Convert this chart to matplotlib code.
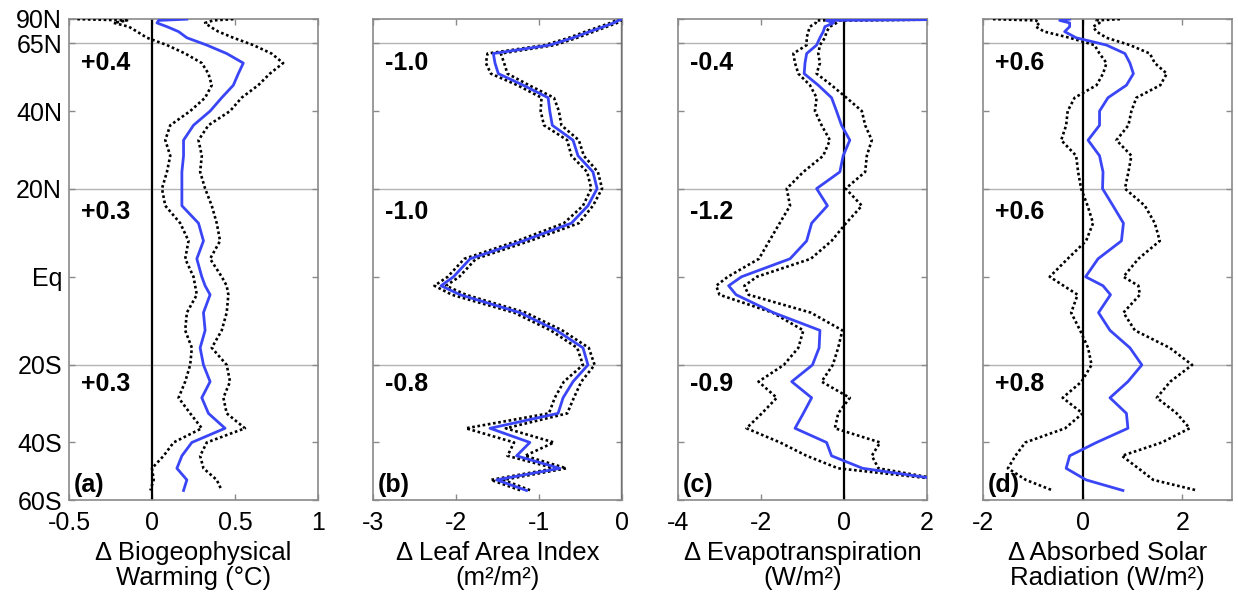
"""Zonal-mean profiles of four land-surface changes, one panel per variable."""

import matplotlib

matplotlib.use("Agg")
import matplotlib.pyplot as plt
import numpy as np

plt.rcParams["font.family"] = ["Liberation Sans", "DejaVu Sans"]
plt.rcParams["axes.unicode_minus"] = False

# latitude of each zonal band (degrees, north positive)
LAT = [88, 84, 80, 76, 72, 68, 64, 60, 56, 52, 48, 44, 40, 36, 32, 28, 24, 20,
       16, 12, 8, 4, 0, -2, -4, -8, -12, -16, -20, -24, -28, -32, -36, -40,
       -44, -48, -52, -56]

# (a) biogeophysical warming, degC
warm_mean = [0.21, 0.04, 0.03, 0.09, 0.16, 0.21, 0.33, 0.45, 0.55, 0.52, 0.49,
             0.42, 0.35, 0.25, 0.19, 0.19, 0.18, 0.18, 0.18, 0.28, 0.31, 0.27,
             0.30, 0.32, 0.35, 0.31, 0.32, 0.29, 0.31, 0.35, 0.30, 0.34, 0.44,
             0.24, 0.18, 0.15, 0.21, 0.19]
warm_low = [-0.45, -0.15, -0.23, -0.14, -0.09, -0.03, 0.09, 0.20, 0.30, 0.34,
            0.36, 0.32, 0.23, 0.11, 0.08, 0.11, 0.09, 0.06, 0.08, 0.17, 0.22,
            0.20, 0.25, 0.26, 0.27, 0.21, 0.20, 0.24, 0.23, 0.20, 0.16, 0.23,
            0.30, 0.13, 0.07, 0.00, 0.01, -0.01]
warm_high = [0.49, 0.37, 0.32, 0.35, 0.40, 0.49, 0.61, 0.72, 0.79, 0.71, 0.64,
             0.54, 0.47, 0.34, 0.28, 0.30, 0.29, 0.32, 0.36, 0.39, 0.41, 0.35,
             0.42, 0.45, 0.46, 0.45, 0.42, 0.36, 0.45, 0.47, 0.43, 0.45, 0.56,
             0.33, 0.29, 0.31, 0.39, 0.42]

# (b) leaf area index, m2/m2
lai_mean = [0.0, -0.04, -0.10, -0.22, -0.39, -0.59, -0.87, -1.55, -1.53, -1.49,
            -1.19, -0.89, -0.87, -0.84, -0.59, -0.53, -0.35, -0.30, -0.41,
            -0.61, -1.19, -1.83, -2.03, -2.18, -1.95, -1.23, -0.79, -0.47,
            -0.41, -0.59, -0.71, -0.77, -1.59, -1.11, -1.27, -0.75, -1.51, -1.15]
lai_low = [-0.02, -0.07, -0.14, -0.27, -0.44, -0.64, -0.93, -1.62, -1.64, -1.58,
           -1.26, -0.97, -0.98, -0.94, -0.66, -0.61, -0.42, -0.37, -0.47, -0.70,
           -1.26, -1.90, -2.10, -2.26, -2.05, -1.30, -0.86, -0.54, -0.47, -0.70,
           -0.81, -0.88, -1.88, -1.30, -1.38, -0.81, -1.58, -1.22]
lai_high = [0.0, -0.01, -0.06, -0.18, -0.34, -0.54, -0.81, -1.46, -1.42, -1.38,
            -1.12, -0.82, -0.76, -0.73, -0.52, -0.46, -0.29, -0.24, -0.35, -0.52,
            -1.11, -1.76, -1.96, -2.12, -1.88, -1.16, -0.72, -0.40, -0.33, -0.49,
            -0.58, -0.66, -1.40, -0.82, -1.17, -0.67, -1.43, -1.10]

# (c) evapotranspiration, W/m2 (nan = no land band)
et_mean = [3.5, -0.42, -0.25, -0.46, -0.50, -0.58, -0.66, -0.90, -0.94, -0.96,
           -0.62, -0.30, -0.18, -0.06, 0.14, -0.02, -0.10, -0.66, -0.40, -0.78,
           -0.90, -1.30, -2.47, -2.78, -2.60, -1.70, -0.58, -0.60, -0.76, -1.26,
           -0.78, -0.98, -1.18, -0.42, -0.30, 0.45, 2.4, np.nan]
et_low = [3.5, -0.66, -0.68, -0.82, -0.86, -0.90, -0.90, -1.22, -1.18, -1.10,
          -0.82, -0.66, -0.70, -0.54, -0.34, -0.50, -0.98, -1.38, -1.30, -1.55,
          -1.80, -2.05, -2.80, -3.08, -3.00, -1.72, -0.98, -1.10, -1.45, -2.06,
          -1.62, -1.98, -2.35, -1.54, -0.90, -0.14, 2.4, np.nan]
et_high = [3.5, -0.10, -0.18, -0.34, -0.42, -0.46, -0.58, -0.62, -0.58, -0.66,
           -0.30, 0.06, 0.43, 0.51, 0.67, 0.55, 0.51, 0.04, 0.43, 0.05, -0.30,
           -0.80, -2.10, -2.40, -2.30, -0.80, -0.04, -0.14, -0.27, -0.54, 0.14,
           -0.14, -0.22, 0.87, 0.67, 0.83, 2.4, np.nan]

# (d) absorbed solar radiation, W/m2
sw_mean = [-0.26, -0.46, -0.26, -0.26, -0.36, -0.13, 0.48, 0.85, 0.95, 1.02,
           0.88, 0.51, 0.34, 0.34, 0.11, 0.34, 0.41, 0.40, 0.61, 0.82, 0.78,
           0.31, 0.06, 0.41, 0.56, 0.32, 0.55, 0.95, 1.19, 0.91, 0.55, 0.88,
           0.91, 0.28, -0.26, -0.33, 0.07, 0.81]
sw_low = [-1.80, -0.94, -0.87, -0.94, -0.77, -0.26, 0.24, 0.34, 0.48, 0.41,
          0.28, -0.16, -0.30, -0.33, -0.43, -0.13, -0.09, -0.03, 0.10, 0.21,
          0.07, -0.30, -0.66, -0.38, -0.10, -0.23, -0.05, 0.11, 0.18, -0.02,
          -0.40, 0.00, -0.35, -1.15, -1.35, -1.50, -1.14, -0.60]
sw_high = [0.75, 0.28, 0.34, 0.21, 0.28, 0.48, 0.95, 1.35, 1.45, 1.69, 1.56,
           1.08, 0.98, 0.92, 0.68, 0.98, 0.92, 0.85, 1.25, 1.45, 1.55, 1.12,
           0.82, 1.12, 1.15, 0.82, 1.05, 1.75, 2.20, 1.76, 1.49, 1.89, 2.15,
           1.59, 0.79, 1.12, 1.42, 2.30]

# band means printed in each panel: 65N-20N, 20N-20S, 20S-60S
band_means = [["+0.4", "+0.3", "+0.3"],
              ["-1.0", "-1.0", "-0.8"],
              ["-0.4", "-1.2", "-0.9"],
              ["+0.6", "+0.6", "+0.8"]]
panel_tags = ["(a)", "(b)", "(c)", "(d)"]
xlabels = ["Δ Biogeophysical\nWarming (°C)",
           "Δ Leaf Area Index\n(m²/m²)",
           "Δ Evapotranspiration\n(W/m²)",
           "Δ Absorbed Solar\nRadiation (W/m²)"]
xlims = [(-0.5, 1), (-3, 0), (-4, 2), (-2, 3)]
xticks = [[-0.5, 0, 0.5, 1], [-3, -2, -1, 0], [-4, -2, 0, 2], [-2, 0, 2]]
xticklabels = [["-0.5", "0", "0.5", "1"], ["-3", "-2", "-1", "0"],
               ["-4", "-2", "0", "2"], ["-2", "0", "2"]]

lat_ticks = [90, 65, 40, 20, 0, -20, -40, -60]
lat_labels = ["90N", "65N", "40N", "20N", "Eq", "20S", "40S", "60S"]

series = [(warm_mean, warm_low, warm_high),
          (lai_mean, lai_low, lai_high),
          (et_mean, et_low, et_high),
          (sw_mean, sw_low, sw_high)]


def _fwd(lat):
    return np.sin(np.deg2rad(lat))  # area-weighted latitude axis


def _inv(s):
    return np.rad2deg(np.arcsin(np.clip(s, -1, 1)))


BLUE = "#3a46f6"
FRAME = "#8a8a8a"

fig = plt.figure(figsize=(12.38, 5.96), dpi=100)
lefts = [69, 373, 678, 983]

for i, (mean, low, high) in enumerate(series):
    ax = fig.add_axes([lefts[i] / 1238, 96 / 596, 249 / 1238, 481 / 596])
    ax.set_yscale("function", functions=(_fwd, _inv))
    ax.set_ylim(-60, 90)
    ax.set_xlim(*xlims[i])

    for g in (65, 20, -20):
        ax.axhline(g, color="#b4b4b4", lw=1.0, zorder=1)
    ax.axvline(0, color="k", lw=1.6, zorder=2)

    ax.plot(low, LAT, color="k", lw=1.9, ls=(0, (1, 1)), zorder=3)
    ax.plot(high, LAT, color="k", lw=1.9, ls=(0, (1, 1)), zorder=3)
    ax.plot(mean, LAT, color=BLUE, lw=2.0, zorder=4)

    ax.set_yticks(lat_ticks)
    ax.yaxis.set_minor_locator(matplotlib.ticker.NullLocator())
    if i == 0:
        ax.set_yticklabels(lat_labels)
    else:
        ax.set_yticklabels([])
    ax.set_xticks(xticks[i])
    ax.set_xticklabels(xticklabels[i])
    ax.tick_params(direction="in", length=4, width=1, color=FRAME,
                   labelsize=18, top=True, right=True)
    ax.tick_params(axis="x", pad=8)
    ax.tick_params(axis="y", pad=5)
    for sp in ax.spines.values():
        sp.set_color(FRAME)
        sp.set_linewidth(1.2)
    ax.set_xlabel(xlabels[i], fontsize=18.5, labelpad=4, linespacing=1.05)

    trans = ax.get_yaxis_transform()
    for lat_c, txt in zip((56, 14.5, -24.5), band_means[i]):
        ax.text(0.05, lat_c, txt, transform=trans, fontsize=18,
                fontweight="bold", ha="left", va="center")
    ax.text(0.02, -54, panel_tags[i], transform=trans, fontsize=18,
            fontweight="bold", ha="left", va="center")

fig.savefig("out.png", dpi=100)
